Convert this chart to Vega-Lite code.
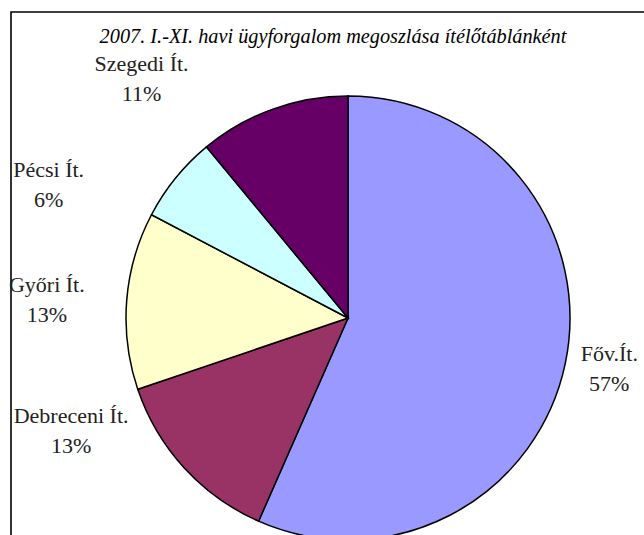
{
  "$schema": "https://vega.github.io/schema/vega-lite/v6.json",
  "autosize": {"type": "none"},
  "width": 674,
  "height": 612,
  "padding": {"left": 11, "top": 12, "right": -41, "bottom": -89},
  "background": "white",
  "view": {"stroke": "black", "strokeWidth": 1.6, "fill": "white"},
  "config": {
    "font": "Liberation Serif, Times New Roman, serif"
  },
  "title": {
    "text": "2007. I.-XI. havi ügyforgalom megoszlása ítélőtáblánként",
    "font": "Liberation Serif, Times New Roman, serif",
    "fontStyle": "italic",
    "fontWeight": "normal",
    "fontSize": 20.3,
    "color": "black",
    "anchor": "middle",
    "frame": "group",
    "baseline": "alphabetic",
    "offset": -51,
    "dx": -15
  },
  "data": {
    "values": [
      {"name": "Főv.Ít.", "value": 56.6},
      {"name": "Debreceni Ít.", "value": 13.2},
      {"name": "Győri Ít.", "value": 12.9},
      {"name": "Pécsi Ít.", "value": 6.3},
      {"name": "Szegedi Ít.", "value": 11.0}
    ]
  },
  "transform": [
    {"window": [{"op": "row_number", "as": "idx"}]},
    {"calculate": "[datum.name, format(datum.value / 100, '.0%')]", "as": "lines"}
  ],
  "encoding": {
    "theta": {"field": "value", "type": "quantitative", "stack": true},
    "order": {"field": "idx", "type": "quantitative"},
    "color": {
      "field": "name",
      "type": "nominal",
      "legend": null,
      "scale": {
        "domain": ["Főv.Ít.", "Debreceni Ít.", "Győri Ít.", "Pécsi Ít.", "Szegedi Ít."],
        "range": ["#9999FF", "#993366", "#FFFFCC", "#CCFFFF", "#660066"]
      }
    }
  },
  "layer": [
    {
      "mark": {"type": "arc", "outerRadius": 222, "stroke": "black", "strokeWidth": 1.5}
    },
    {
      "mark": {
        "type": "text",
        "radius": 267,
        "fontSize": 22,
        "font": "Liberation Serif, Times New Roman, serif",
        "lineHeight": 30,
        "align": "center",
        "baseline": "middle",
        "dx": {"expr": "datum.name == 'Debreceni Ít.' ? -80 : datum.name == 'Győri Ít.' ? -35 : datum.name == 'Pécsi Ít.' ? -92 : datum.name == 'Szegedi Ít.' ? -116 : 0"},
        "dy": {"expr": "datum.name == 'Debreceni Ít.' ? -82 : datum.name == 'Győri Ít.' ? -12 : datum.name == 'Pécsi Ít.' ? 20 : datum.name == 'Szegedi Ít.' ? -3 : -19"}
      },
      "encoding": {
        "text": {"field": "lines"},
        "color": {"value": "#222222"}
      }
    }
  ]
}
